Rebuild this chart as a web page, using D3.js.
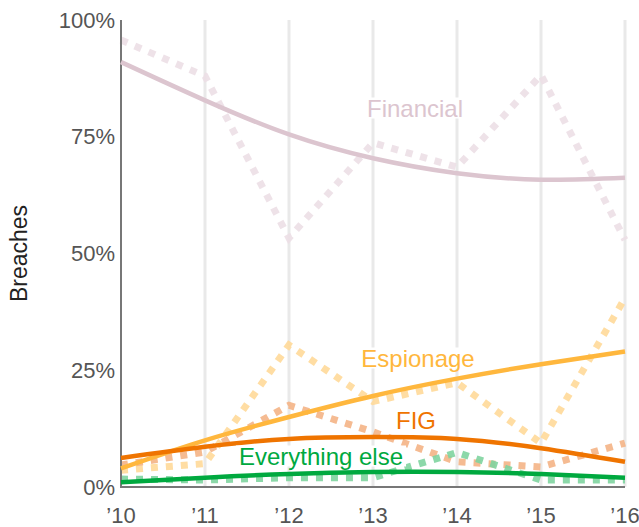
<!DOCTYPE html>
<html>
<head>
<meta charset="utf-8">
<script src="https://cdn.jsdelivr.net/npm/d3@7"></script>
<style>
  body { margin: 0; background: #fff; }
  svg { font-family: "Liberation Sans", Arial, sans-serif; }
</style>
</head>
<body>
<div id="chart"></div>
<script>
const years = [2010, 2011, 2012, 2013, 2014, 2015, 2016];
const yTicks = [0, 25, 50, 75, 100];

// raw yearly shares (dotted) and fitted trend (solid), in %
const financialRaw = [95.7, 88, 53.3, 73.7, 68.5, 88.2, 52.9];
const financialTrend = [91, 82.8, 75.5, 70.4, 67.2, 65.8, 66.2];
const espionageRaw = [3.6, 5, 30.4, 18.3, 22.3, 9.4, 40.5];
const espionageTrend = [4, 10, 15, 19.5, 23.2, 26.3, 29];
const figRaw = [4.7, 7.5, 17.5, 11.8, 5.4, 4.3, 9.4];
const figTrend = [6.2, 8.6, 10.3, 10.7, 10.3, 8.3, 5.4];
const elseRaw = [1.7, 1.5, 2, 2, 7.4, 1.5, 1.5];
const elseTrend = [1.0, 2.0, 2.8, 3.2, 3.2, 2.8, 2.0];

const series = [
  {name: "Financial", raw: financialRaw, trend: financialTrend, color: "#dcc5cf", dot: "#ecdfe5", lx: 415, ly: 108},
  {name: "Espionage", raw: espionageRaw, trend: espionageTrend, color: "#ffb73d", dot: "#ffd999", lx: 418, ly: 358},
  {name: "FIG", raw: figRaw, trend: figTrend, color: "#ef7400", dot: "#f4b486", lx: 416, ly: 420},
  {name: "Everything else", raw: elseRaw, trend: elseTrend, color: "#00a93f", dot: "#7fd4a0", lx: 321, ly: 456}
];

const W = 639, H = 527;
const m = {top: 20, right: 14, bottom: 40, left: 121};

const svg = d3.select('#chart').append('svg')
    .attr('width', W)
    .attr('height', H);

const x = d3.scaleLinear()
    .domain([2010, 2016])
    .range([m.left, W - m.right]);
const y = d3.scaleLinear()
    .domain([0, 100])
    .range([H - m.bottom, m.top]);

// vertical gridlines
svg.append('g')
  .selectAll('line')
  .data(years.slice(1))
  .join('line')
    .attr('x1', d => x(d)).attr('x2', d => x(d))
    .attr('y1', y(100)).attr('y2', y(0))
    .attr('stroke', '#e9e9e9')
    .attr('stroke-width', 3);

const line = d3.line()
    .x((d, i) => x(years[i]))
    .y(d => y(d));
const smooth = d3.line()
    .x((d, i) => x(years[i]))
    .y(d => y(d))
    .curve(d3.curveNatural);

// dotted raw lines first
svg.append('g')
  .selectAll('path')
  .data(series)
  .join('path')
    .attr('d', d => line(d.raw))
    .attr('fill', 'none')
    .attr('stroke', d => d.dot)
    .attr('stroke-opacity', 0.9)
    .attr('stroke-width', 7)
    .attr('stroke-dasharray', '7,8');

// axes
svg.append('line')
    .attr('x1', x(2010)).attr('x2', x(2010))
    .attr('y1', y(100)).attr('y2', y(0) + 1)
    .attr('stroke', '#777').attr('stroke-width', 2);
svg.append('line')
    .attr('x1', x(2010)).attr('x2', x(2016))
    .attr('y1', y(0)).attr('y2', y(0))
    .attr('stroke', '#777').attr('stroke-width', 2);

// trend lines
svg.append('g')
  .selectAll('path')
  .data(series)
  .join('path')
    .attr('d', d => smooth(d.trend))
    .attr('fill', 'none')
    .attr('stroke', d => d.color)
    .attr('stroke-width', 4.5);

// series labels with white backing
const lab = svg.append('g')
  .selectAll('g')
  .data(series)
  .join('g');
lab.append('text')
    .attr('x', d => d.lx)
    .attr('y', d => d.ly)
    .attr('text-anchor', 'middle')
    .attr('dominant-baseline', 'central')
    .attr('font-size', 24)
    .attr('fill', d => d.color)
    .text(d => d.name);
lab.each(function() {
  const g = d3.select(this);
  const bb = g.select('text').node().getBBox();
  g.insert('rect', 'text')
    .attr('x', bb.x - 3).attr('y', bb.y + 3)
    .attr('width', bb.width + 6).attr('height', bb.height - 6)
    .attr('fill', '#fff');
});

// y tick labels
svg.append('g')
  .selectAll('text')
  .data(yTicks)
  .join('text')
    .attr('x', m.left - 6)
    .attr('y', d => y(d))
    .attr('text-anchor', 'end')
    .attr('dominant-baseline', 'central')
    .attr('font-size', 22)
    .attr('fill', '#555')
    .text(d => d + '%');

// x tick labels
svg.append('g')
  .selectAll('text')
  .data(years)
  .join('text')
    .attr('x', d => x(d))
    .attr('y', y(0) + 28)
    .attr('text-anchor', 'middle')
    .attr('dominant-baseline', 'central')
    .attr('font-size', 22)
    .attr('fill', '#555')
    .text(d => '\u2019' + String(d).slice(2));

svg.append('text')
    .attr('transform', 'translate(19,' + y(50) + ') rotate(-90)')
    .attr('text-anchor', 'middle')
    .attr('dominant-baseline', 'central')
    .attr('font-size', 23)
    .attr('fill', '#222')
    .text('Breaches');
</script>
</body>
</html>
